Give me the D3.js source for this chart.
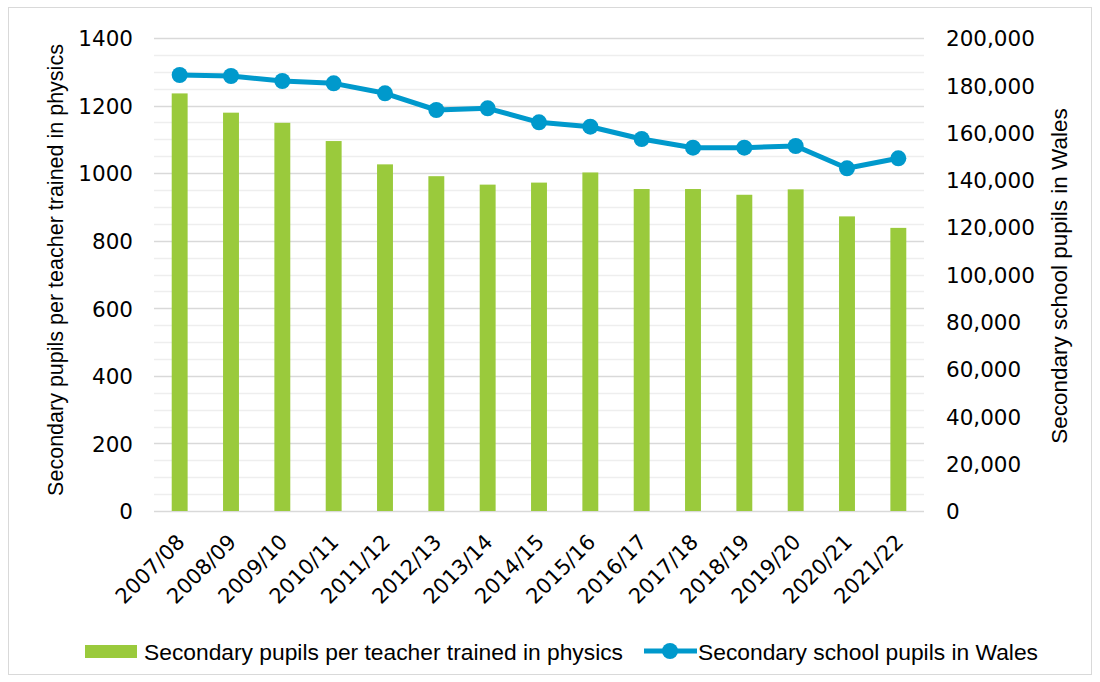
<!DOCTYPE html>
<html>
<head>
<meta charset="utf-8">
<script src="https://cdn.jsdelivr.net/npm/d3@7"></script>
<style>
  html, body { margin: 0; padding: 0; background: #fff; }
  svg { display: block; }
</style>
</head>
<body>
<svg id="chart" width="1100" height="682"></svg>
<script>
const categories = ["2007/08","2008/09","2009/10","2010/11","2011/12","2012/13","2013/14","2014/15","2015/16","2016/17","2017/18","2018/19","2019/20","2020/21","2021/22"];
const pupilsPerTeacher = [1236,1179,1149,1095,1026,991,966,972,1002,953,953,936,952,872,838];
const totalPupils = [184355,183932,181818,180832,176617,169556,170261,164355,162495,157294,153615,153615,154334,144905,149133];
const leftTicks = [0,200,400,600,800,1000,1200,1400];
const rightTicks = [0,20000,40000,60000,80000,100000,120000,140000,160000,180000,200000];
const seriesNames = ["Secondary pupils per teacher trained in physics","Secondary school pupils in Wales"];

const svg = d3.select("#chart");
const W = 1100, H = 682;
const plot = {left: 154, right: 924, top: 38, bottom: 511};
const green = "#9aca3c", blue = "#0099cc";
const tickFont = "'DejaVu Sans', sans-serif";
const labelFont = "'Liberation Sans', Arial, sans-serif";

svg.append("rect").attr("x", 8.5).attr("y", 7.5).attr("width", W - 17).attr("height", H - 15)
  .attr("fill", "#fff").attr("stroke", "#d9d9d9").attr("stroke-width", 1);

const x = d3.scaleBand().domain(categories).range([plot.left, plot.right]).paddingInner(0.69).paddingOuter(0.345);
const yL = d3.scaleLinear().domain([0, 1400]).range([plot.bottom, plot.top]);
const yR = d3.scaleLinear().domain([0, 200000]).range([plot.bottom, plot.top]);

// minor gridlines
const minor = d3.range(0, 1401, 50).filter(v => v % 200 !== 0);
svg.append("g").selectAll("line").data(minor).join("line")
  .attr("x1", plot.left).attr("x2", plot.right)
  .attr("y1", d => Math.round(yL(d)) + 0.5).attr("y2", d => Math.round(yL(d)) + 0.5)
  .attr("stroke", "#eeeeee").attr("stroke-width", 1.5);
// major gridlines
svg.append("g").selectAll("line").data(leftTicks).join("line")
  .attr("x1", plot.left).attr("x2", plot.right)
  .attr("y1", d => Math.round(yL(d)) + 0.5).attr("y2", d => Math.round(yL(d)) + 0.5)
  .attr("stroke", "#d9d9d9").attr("stroke-width", 1.5);

// left axis
const axL = d3.axisLeft(yL).tickValues(leftTicks).tickSize(0).tickPadding(0).tickFormat(d3.format("d"));
const gL = svg.append("g").attr("transform", `translate(${plot.left - 21},0)`).call(axL);
gL.select(".domain").remove();
gL.selectAll("text").attr("font-family", tickFont).attr("font-size", 21.5).attr("fill", "#000").attr("dy", "0.36em");

// right axis
const axR = d3.axisRight(yR).tickValues(rightTicks).tickSize(0).tickPadding(0).tickFormat(d3.format(","));
const gR = svg.append("g").attr("transform", `translate(${plot.right + 22},0)`).call(axR);
gR.select(".domain").remove();
gR.selectAll("text").attr("font-family", tickFont).attr("font-size", 21.5).attr("fill", "#000").attr("dy", "0.36em");

// x axis labels
const axX = d3.axisBottom(x).tickSize(0).tickPadding(0);
const gX = svg.append("g").attr("transform", `translate(0,${plot.bottom})`).call(axX);
gX.select(".domain").remove();
gX.selectAll("text")
  .attr("font-family", tickFont).attr("font-size", 21).attr("fill", "#000")
  .attr("text-anchor", "end")
  .attr("transform", "translate(-4,22) rotate(-45)")
  .attr("dy", "0.7em").attr("y", 0);

// bars
svg.append("g").selectAll("rect").data(pupilsPerTeacher).join("rect")
  .attr("x", (d, i) => x(categories[i]))
  .attr("y", d => yL(d))
  .attr("width", x.bandwidth())
  .attr("height", d => yL(0) - yL(d))
  .attr("fill", green);

// line
const cx = (i) => x(categories[i]) + x.bandwidth() / 2;
const line = d3.line().x((d, i) => cx(i)).y(d => yR(d));
svg.append("path").datum(totalPupils).attr("d", line)
  .attr("fill", "none").attr("stroke", blue).attr("stroke-width", 5).attr("stroke-linejoin", "round");
svg.append("g").selectAll("circle").data(totalPupils).join("circle")
  .attr("cx", (d, i) => cx(i)).attr("cy", d => yR(d)).attr("r", 8).attr("fill", blue);

// axis titles
svg.append("text").attr("transform", `translate(63,270) rotate(-90)`)
  .attr("text-anchor", "middle").attr("font-family", labelFont).attr("font-size", 21.5).attr("fill", "#000")
  .text("Secondary pupils per teacher trained in physics");
svg.append("text").attr("transform", `translate(1067,276) rotate(-90)`)
  .attr("text-anchor", "middle").attr("font-family", labelFont).attr("font-size", 22.5).attr("fill", "#000")
  .text("Secondary school pupils in Wales");

// legend
const lg = svg.append("g");
lg.append("rect").attr("x", 85).attr("y", 645).attr("width", 52).attr("height", 13).attr("fill", green);
lg.append("text").attr("x", 144).attr("y", 652).attr("dy", "0.35em").attr("font-family", labelFont)
  .attr("font-size", 22.8).attr("fill", "#000").text(seriesNames[0]);
lg.append("line").attr("x1", 644).attr("x2", 697).attr("y1", 651).attr("y2", 651)
  .attr("stroke", blue).attr("stroke-width", 5);
lg.append("circle").attr("cx", 670).attr("cy", 651).attr("r", 8).attr("fill", blue);
lg.append("text").attr("x", 698).attr("y", 652).attr("dy", "0.35em").attr("font-family", labelFont)
  .attr("font-size", 22.8).attr("fill", "#000").text(seriesNames[1]);
</script>
</body>
</html>
